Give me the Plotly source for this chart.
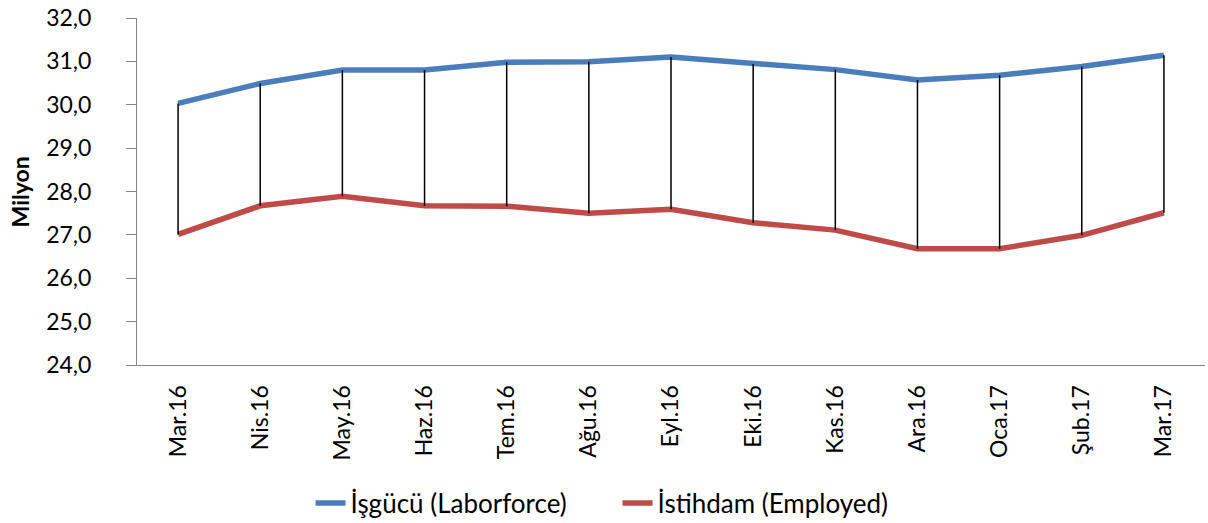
import plotly.graph_objects as go

categories = ["Mar.16", "Nis.16", "May.16", "Haz.16", "Tem.16", "Ağu.16", "Eyl.16",
              "Eki.16", "Kas.16", "Ara.16", "Oca.17", "Şub.17", "Mar.17"]
labor_force = [30.03, 30.49, 30.80, 30.80, 30.98, 30.99, 31.10, 30.94, 30.81, 30.57, 30.68, 30.88, 31.14]
employed = [27.01, 27.67, 27.89, 27.67, 27.66, 27.50, 27.59, 27.28, 27.11, 26.68, 26.68, 26.99, 27.51]
y_title = "Milyon"

# high-low drop lines between the two series
hl_x, hl_y = [], []
for c, lo, hi in zip(categories, employed, labor_force):
    hl_x += [c, c, None]
    hl_y += [lo, hi, None]

FONT = "Lato, Liberation Sans, sans-serif"

fig = go.Figure()
fig.add_trace(go.Scatter(x=categories, y=labor_force, mode="lines", name="İşgücü (Laborforce)",
                         line=dict(color="#4A7EBB", width=5.5)))
fig.add_trace(go.Scatter(x=categories, y=employed, mode="lines", name="İstihdam (Employed)",
                         line=dict(color="#BE4B48", width=5.5)))
fig.add_trace(go.Scatter(x=hl_x, y=hl_y, mode="lines", showlegend=False, hoverinfo="skip",
                         line=dict(color="black", width=1.5)))

fig.update_layout(
    width=1208, height=523,
    margin=dict(l=137, r=3, t=18, b=158),
    plot_bgcolor="white", paper_bgcolor="white",
    separators=",.",
    font=dict(family=FONT, color="black", size=22),
    showlegend=True,
    legend=dict(orientation="h", x=0.1625, xanchor="left", yref="container", y=0.038, yanchor="middle",
                font=dict(family=FONT, size=26), entrywidth=262, entrywidthmode="pixels",
                tracegroupgap=0),
    xaxis=dict(type="category", range=[-0.5, 12.5], showline=True, linecolor="#868686", linewidth=1,
               tickangle=-90, showgrid=False, ticks="", automargin=False, ticklabelstandoff=10,
               tickfont=dict(family=FONT, size=23)),
    yaxis=dict(range=[24, 32], dtick=1, tickformat=".1f", showline=True, linecolor="#868686", linewidth=1,
               ticks="outside", ticklen=10, tickcolor="#868686", showgrid=False, zeroline=False,
               automargin=False, ticklabelstandoff=30, tickfont=dict(family=FONT, size=23)),
    annotations=[dict(text="<b>" + y_title + "</b>", xref="paper", yref="paper", x=-0.1096, y=0.5,
                      xanchor="center", yanchor="middle", textangle=-90, showarrow=False,
                      font=dict(family=FONT, size=23))],
)

fig.write_html("out.html", post_script="document.body.style.margin='0';",
               config={"displayModeBar": False})
